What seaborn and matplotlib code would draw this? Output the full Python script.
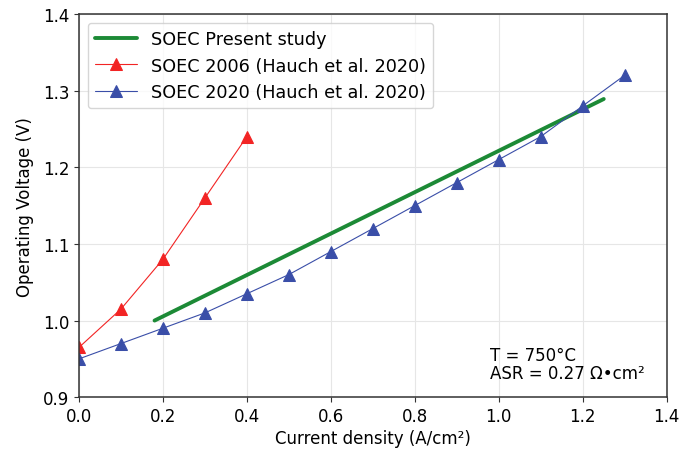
import numpy as np
import pandas as pd
import matplotlib
matplotlib.use('Agg')
import matplotlib.pyplot as plt
import seaborn as sns

# data
present_j = [0.18, 1.25]
present_v = [1.00, 1.289]

j_2006 = [0.0, 0.1, 0.2, 0.3, 0.4]
v_2006 = [0.965, 1.015, 1.08, 1.16, 1.24]

j_2020 = [0.0, 0.1, 0.2, 0.3, 0.4, 0.5, 0.6, 0.7, 0.8, 0.9, 1.0, 1.1, 1.2, 1.3]
v_2020 = [0.95, 0.97, 0.99, 1.01, 1.035, 1.06, 1.09, 1.12, 1.15, 1.18, 1.21, 1.24, 1.28, 1.32]

sns.set_style('ticks')
plt.rcParams['font.family'] = ['DejaVu Sans']
plt.rcParams.update({'text.color': 'black', 'axes.labelcolor': 'black',
                     'xtick.color': '#333333', 'ytick.color': '#333333',
                     'xtick.labelcolor': 'black', 'ytick.labelcolor': 'black'})

fig, ax = plt.subplots(figsize=(6.81, 4.52), dpi=100)
fig.subplots_adjust(left=0.116, right=0.979, top=0.967, bottom=0.119)

sns.lineplot(x=present_j, y=present_v, color='#1c8a36', linewidth=2.8,
             label='SOEC Present study', ax=ax)
sns.lineplot(x=j_2006, y=v_2006, color='#f22424', linewidth=0.8, marker='^',
             markersize=8, markeredgecolor='#f22424',
             label='SOEC 2006 (Hauch et al. 2020)', ax=ax)
sns.lineplot(x=j_2020, y=v_2020, color='#3a4ea8', linewidth=0.8, marker='^',
             markersize=8, markeredgecolor='#3a4ea8',
             label='SOEC 2020 (Hauch et al. 2020)', ax=ax)
for line in ax.lines:
    line.set_clip_on(True)
    line.set_clip_box(ax.bbox)

ax.set_xlim(0, 1.4)
ax.set_ylim(0.9, 1.4)
ax.set_xticks(np.arange(0, 1.41, 0.2))
ax.set_yticks(np.arange(0.9, 1.41, 0.1))
ax.grid(True, color='#e6e6e6', linewidth=0.8)
for s in ax.spines.values():
    s.set_visible(True)
    s.set_color('#333333')
    s.set_linewidth(1.1)

ax.set_xlabel('Current density (A/cm²)', fontsize=12, labelpad=3)
ax.set_ylabel('Operating Voltage (V)', fontsize=12, labelpad=6)
ax.tick_params(labelsize=12)

ax.text(0.70, 0.04, 'T = 750°C\nASR = 0.27 Ω•cm²', transform=ax.transAxes,
        fontsize=12, ha='left', va='bottom', linespacing=1.0)

ax.legend(loc='upper left', fontsize=12.7, frameon=True, borderaxespad=0.5,
          handlelength=2.4)

plt.savefig('out.png', dpi=100)
